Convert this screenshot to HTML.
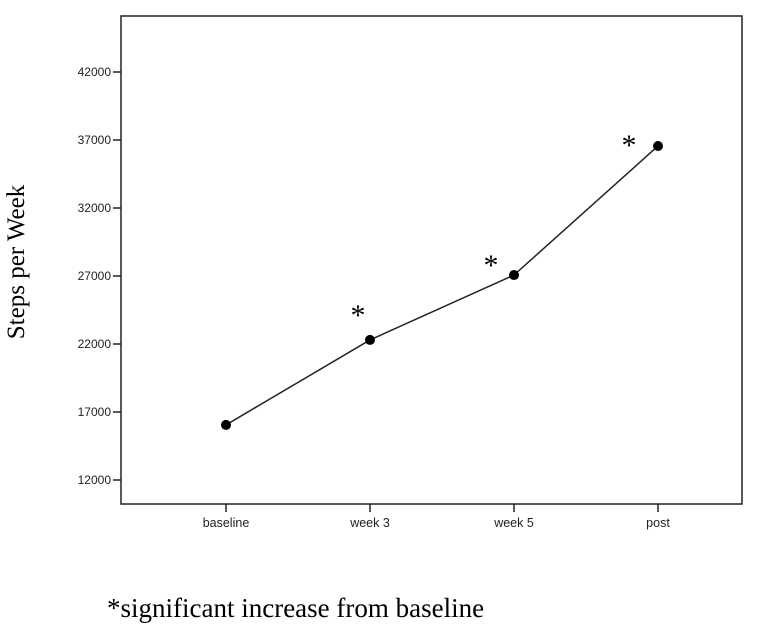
<!DOCTYPE html>
<html><head><meta charset="utf-8"><style>
body{margin:0;background:#fff;width:773px;height:631px;overflow:hidden}
svg text{font-family:"Liberation Sans",sans-serif}
</style></head><body>
<svg id="chart" width="773" height="631">
<rect x="121" y="16" width="621" height="488" fill="#fff" stroke="#222" stroke-width="1.5"/>
<g id="yaxis"></g><g id="xaxis"></g><g id="series"></g>
<text x="24" y="262" font-size="25" transform="rotate(-90 24 262)" text-anchor="middle" style="font-family:'Liberation Serif',serif">Steps per Week</text>
<text x="107" y="617" font-size="27" style="font-family:'Liberation Serif',serif">*significant increase from baseline</text>
</svg>
<script>
const categories=["baseline","week 3","week 5","post"];
const values=[16050,22300,27070,36560];
const significant=[false,true,true,true];
const yTicks=[12000,17000,22000,27000,32000,37000,42000];
const NS="http://www.w3.org/2000/svg";
const starDx=[0,-12,-23,-29], starDy=[0,-15,0,9];
function y(v){return 480-(v-12000)*68/5000;}
function x(i){return 226+i*144;}
function mk(t,a,p){const e=document.createElementNS(NS,t);for(const k in a)e.setAttribute(k,a[k]);p.appendChild(e);return e;}
const ya=document.getElementById('yaxis'),xa=document.getElementById('xaxis'),se=document.getElementById('series');
yTicks.forEach(v=>{
 const l=mk('line',{x1:113,x2:121,y1:y(v),y2:y(v),stroke:'#222','stroke-width':1.5},ya);
 
 
 const t=mk('text',{x:111,y:y(v)+4,'text-anchor':'end','font-size':12,fill:'#222'},ya);t.textContent=v;
 
 
});
categories.forEach((c,i)=>{
 const l=mk('line',{x1:x(i),x2:x(i),y1:504,y2:512,stroke:'#222','stroke-width':1.5},xa);
 
 
 const t=mk('text',{x:x(i),y:527,'text-anchor':'middle','font-size':12.5,fill:'#222'},xa);t.textContent=c;
 
 
});
const pl=mk('polyline',{points:values.map((v,i)=>x(i)+','+y(v)).join(' '),fill:'none',stroke:'#222','stroke-width':1.5},se);


values.forEach((v,i)=>{
 const c=mk('circle',{cx:x(i),cy:y(v),r:5,fill:'#000'},se);
 
 
 if(significant[i]){
  const t=mk('text',{x:x(i)+starDx[i],y:y(v)+starDy[i],'text-anchor':'middle','font-size':30,style:"font-family:'Liberation Serif',serif"},se);t.textContent='*';
  
  
 }
});
</script>
</body></html>
